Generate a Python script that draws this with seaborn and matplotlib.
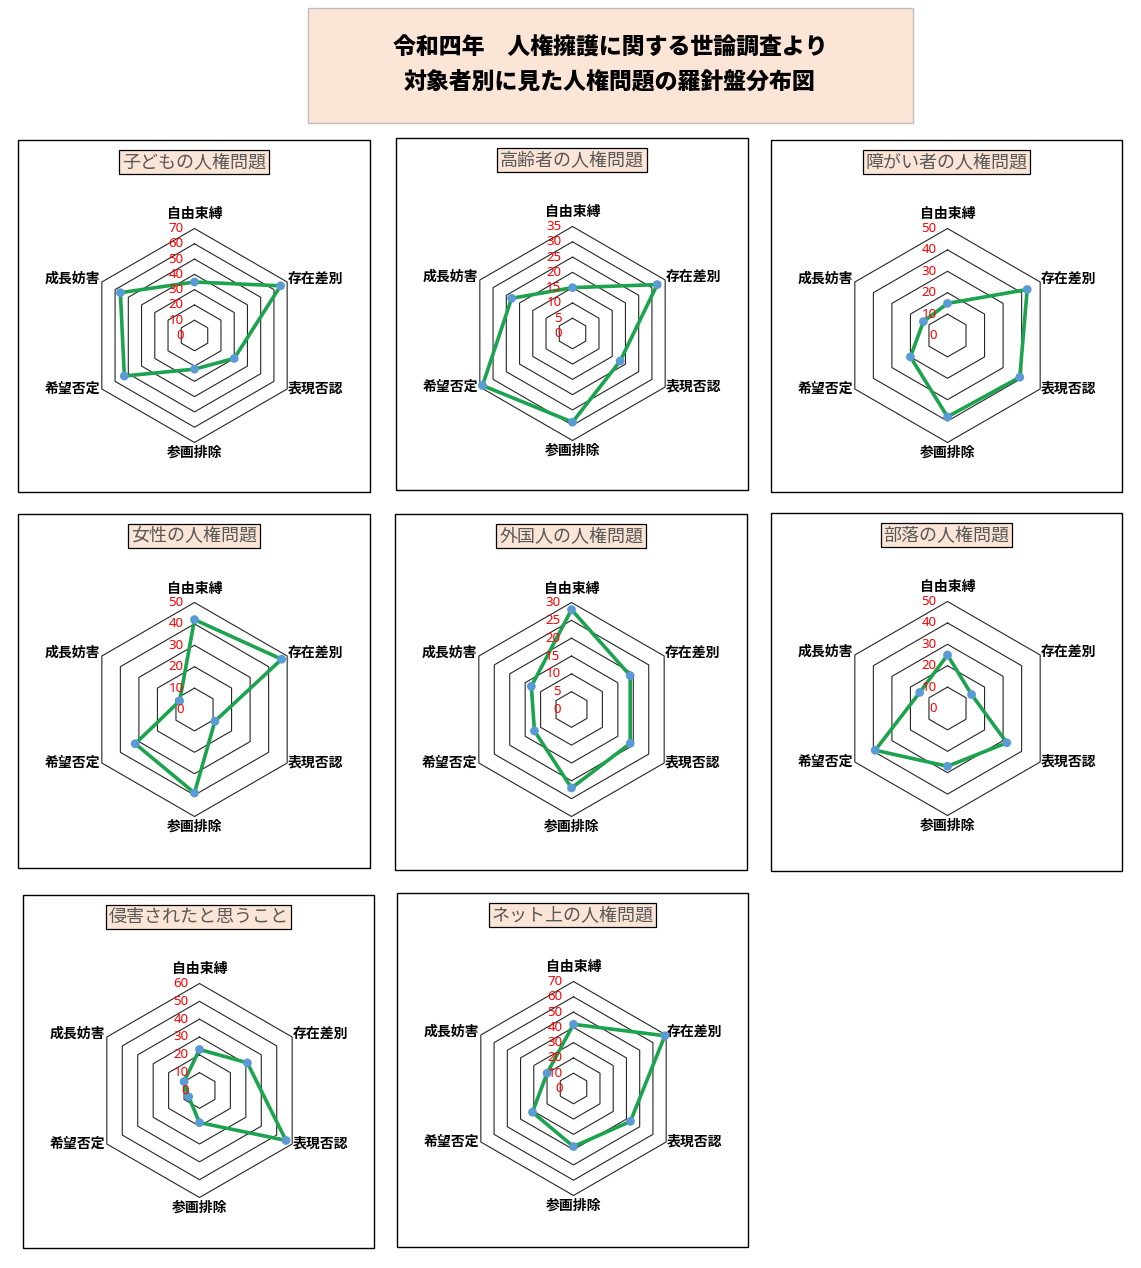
import numpy as np
import pandas as pd
import matplotlib
matplotlib.use('Agg')
import matplotlib.pyplot as plt
import matplotlib.transforms as mtransforms
from matplotlib.patches import Rectangle
import seaborn as sns

# ---------------- data ----------------
categories = ['自由束縛', '存在差別', '表現否認', '参画排除', '希望否定', '成長妨害']
panel_titles = ['子どもの人権問題', '高齢者の人権問題', '障がい者の人権問題',
                '女性の人権問題', '外国人の人権問題', '部落の人権問題',
                '侵害されたと思うこと', 'ネット上の人権問題']
children = [35, 65, 30, 22, 53, 56]
elderly = [15, 32, 18, 29, 34, 23]
disabled = [15, 43, 39, 38, 20, 13]
women = [42, 47, 11, 39, 32, 8]
foreigners = [28, 19, 19, 22, 12, 13]
buraku = [25, 13, 32, 27, 39, 15]
infringed = [23, 31, 56, 18, 7, 10]
internet = [42, 69, 43, 38, 31, 20]
series = [children, elderly, disabled, women, foreigners, buraku, infringed, internet]
axis_max = [70, 35, 50, 50, 30, 50, 60, 70]
axis_step = [10, 5, 10, 10, 5, 10, 10, 10]
main_title = ['令和四年　人権擁護に関する世論調査より', '対象者別に見た人権問題の羅針盤分布図']

# ---------------- layout (pixels) ----------------
W, H = 1141, 1268
panels = [(18, 140, 370, 492), (396, 138, 748, 490), (771, 140, 1122, 492),
          (18, 514, 370, 868), (395, 514, 747, 870), (771, 513, 1122, 871),
          (23, 895, 374, 1248), (397, 893, 748, 1247)]
R = 107

sns.set_style('white')
plt.rcParams['font.family'] = ['Noto Sans CJK JP', 'DejaVu Sans']

fig = plt.figure(figsize=(W / 100, H / 100), dpi=100)
fig.patch.set_facecolor('white')

def fx(x):
    return x / W

def fy(y):
    return 1 - y / H

# main title
fig.add_artist(Rectangle((fx(308), fy(123)), fx(913) - fx(308), fy(8) - fy(123),
                         transform=fig.transFigure, facecolor='#FBE5D6',
                         edgecolor='#BFBFBF', lw=1.0))
fig.text(fx(610), fy(48), main_title[0], ha='center', va='center',
         fontsize=16.5, fontweight='black', color='black')
fig.text(fx(610), fy(83), main_title[1], ha='center', va='center',
         fontsize=16.5, fontweight='black', color='black')

theta = np.linspace(0, 2 * np.pi, 7)

label_spec = [  # ha, va, dx, dy (pixels)
    ('center', 'bottom', 0, 7),
    ('left', 'center', 1, 3),
    ('left', 'center', 1, 0),
    ('center', 'top', 0, -3),
    ('right', 'center', -2, 0),
    ('right', 'center', -2, 3),
]

for i, (x0, y0, x1, y1) in enumerate(panels):
    # panel border
    fig.add_artist(Rectangle((fx(x0), fy(y1)), fx(x1) - fx(x0), fy(y0) - fy(y1),
                             transform=fig.transFigure, fill=False,
                             edgecolor='black', lw=1.0))
    # panel title
    fig.text(fx((x0 + x1) / 2), fy(y0 + 22), panel_titles[i], ha='center', va='center',
             fontsize=13, color='#595959',
             bbox=dict(boxstyle='square,pad=0.15', facecolor='#FBE5D6',
                       edgecolor='black', lw=0.9))

    cx, cy = x0 + 176.5, y0 + 195.5
    ax = fig.add_axes([fx(cx - R), fy(cy + R), 2 * R / W, 2 * R / H], projection='polar')
    ax.set_theta_offset(np.pi / 2)
    ax.set_theta_direction(-1)
    rmax, step = axis_max[i], axis_step[i]

    # hexagonal rings
    for r in np.arange(step, rmax + step / 2, step):
        ax.plot(theta, [r] * 7, color='#262626', lw=0.8, zorder=1, clip_on=False)

    vals = series[i]
    df = pd.DataFrame({'theta': theta, 'value': vals + [vals[0]]})
    sns.lineplot(data=df, x='theta', y='value', sort=False, estimator=None,
                 color='#1BA34E', lw=2.6, ax=ax, zorder=3)
    sns.scatterplot(data=df.iloc[:6], x='theta', y='value', color='#5B9BD5',
                    s=40, edgecolor='none', ax=ax, zorder=4, clip_on=False)
    for ln in ax.lines:
        ln.set_clip_on(False)

    ax.set_ylim(0, rmax)
    ax.set_xticks([])
    ax.set_yticks([])
    ax.set_xlabel('')
    ax.set_ylabel('')
    ax.grid(False)
    ax.spines['polar'].set_visible(False)
    ax.patch.set_alpha(0)

    # radial tick labels
    tr = mtransforms.offset_copy(ax.transData, fig=fig, x=-11, y=0, units='dots')
    for r in np.arange(0, rmax + step / 2, step):
        ax.text(0, r, f'{int(r)}', transform=tr, ha='right', va='center',
                color='#FF0000', fontsize=9.5, family=['Noto Sans', 'DejaVu Sans'],
                zorder=5, clip_on=False)

    # category labels
    for k, cat in enumerate(categories):
        ha, va, dx, dy = label_spec[k]
        trk = mtransforms.offset_copy(ax.transData, fig=fig, x=dx, y=dy, units='dots')
        ax.text(theta[k], rmax, cat, transform=trk, ha=ha, va=va,
                fontsize=10, fontweight='bold', color='black', clip_on=False)

fig.savefig('out.png', dpi=100, facecolor='white')
